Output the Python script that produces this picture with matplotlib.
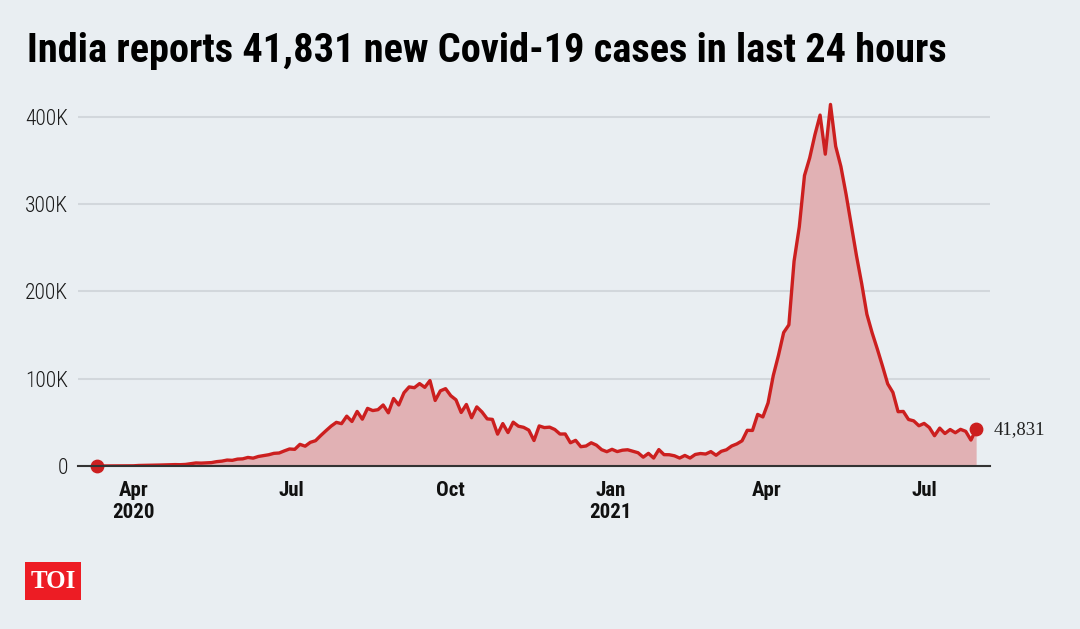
import pandas as pd
import matplotlib
matplotlib.use("Agg")
import matplotlib.pyplot as plt
from matplotlib.patches import Rectangle

# daily new cases, one reading every 3 days from 11 Mar 2020 to 31 Jul 2021
start_date = "2020-03-11"
step_days = 3
cases = [
    5, 15, 20, 50, 80, 90, 190, 230,                                             # Mar 2020
    600, 700, 800, 900, 1100, 1300, 1500, 1600, 1500, 1800,                        # Apr
    2600, 3500, 3300, 3600, 3900, 5000, 5600, 6800, 6500, 7900,                    # May
    8200, 9800, 9000, 10900, 11900, 12900, 14500, 14900, 17300, 19500,             # Jun
    19100, 24800, 22700, 27100, 29000, 34900, 40400, 45700, 50000, 48500,          # Jul
    57100, 51000, 62500, 53600, 66000, 63500, 64500, 69900, 60900, 77300, 69900,   # Aug
    83900, 90600, 89700, 94400, 90100, 97900, 75100, 86100, 88600, 80500,          # Sep
    75800, 61300, 70500, 55300, 67700, 61900, 54000, 53400, 36500, 48600,          # Oct
    38300, 50200, 45600, 44300, 41100, 29200, 45900, 44000, 44500, 41800,          # Nov
    36600, 36700, 26600, 29400, 22100, 22900, 26600, 23900, 18700, 16400,          # Dec
    19100, 16500, 18100, 18600, 16900, 15200, 10100, 14500, 9100, 18800, 13000,    # Jan 2021
    12900, 11700, 9100, 12100, 9100, 13200, 14300, 13700, 16500,                   # Feb
    12300, 16800, 18600, 22900, 25300, 28900, 40900, 40700, 59100, 56200,          # Mar
    72300, 103600, 126800, 152900, 161700, 234700, 273800, 332700, 352900, 379300, # Apr
    402000, 357200, 414200, 366200, 343100, 311200, 276100, 240800, 208900, 173800, 152700,  # May
    134100, 114500, 94100, 84300, 62200, 62500, 53300, 51700, 46100, 48800,        # Jun
    44100, 34700, 43400, 37200, 41800, 38100, 42000, 39700, 29700, 41831,          # Jul
]
dates = pd.date_range(start_date, periods=len(cases), freq=f"{step_days}D")

tick_dates = ["2020-04-01", "2020-07-01", "2020-10-01", "2021-01-01", "2021-04-01", "2021-07-01"]
tick_labels = ["Apr\n2020", "Jul", "Oct", "Jan\n2021", "Apr", "Jul"]
y_ticks = [0, 100000, 200000, 300000, 400000]
y_labels = ["0", "100K", "200K", "300K", "400K"]
title = "India reports 41,831 new Covid-19 cases in last 24 hours"

bg = "#e9eef2"
red = "#cc1f1f"
fill = "#e1b1b4"
cond = ["Roboto Condensed", "Archivo Narrow", "DejaVu Sans"]
serif = ["Liberation Serif", "DejaVu Serif"]

W, H = 1080, 629
fig = plt.figure(figsize=(W / 100, H / 100), dpi=100, facecolor=bg)
ax = fig.add_axes([78 / W, (H - 466) / H, (990 - 78) / W, (466 - 95) / H])
ax.set_facecolor(bg)

ax.fill_between(dates, cases, 0, color=fill, lw=0, zorder=2)
ax.plot(dates, cases, color=red, lw=2.4, solid_joinstyle="round", zorder=3)
ax.scatter([dates[0], dates[-1]], [cases[0], cases[-1]], s=80, color=red, zorder=4, clip_on=False)
ax.text(dates[-1] + pd.Timedelta(days=10), cases[-1], f"{cases[-1]:,}", fontsize=13.5,
        family=serif, color="#222222", va="center", ha="left")

ax.set_xlim(pd.Timestamp("2020-02-29"), pd.Timestamp("2021-08-08"))
ax.set_ylim(0, 425000)

ax.set_yticks(y_ticks)
ax.set_yticklabels(y_labels, fontsize=15.5, family=cond, fontweight=300, color="#1a1a1a")
ax.set_xticks(pd.to_datetime(tick_dates))
ax.set_xticklabels(tick_labels, fontsize=15, family=cond, fontweight="bold",
                   color="#111111", linespacing=1.2, va="top")
ax.tick_params(axis="both", length=0)
ax.tick_params(axis="y", pad=7)
ax.tick_params(axis="x", pad=11)

ax.grid(axis="y", color="#d2d7dc", lw=1.5, zorder=1)
ax.grid(axis="x", visible=False)
for s in ["top", "right", "left"]:
    ax.spines[s].set_visible(False)
ax.spines["bottom"].set_color("#333333")
ax.spines["bottom"].set_linewidth(1.5)
ax.spines["bottom"].set_zorder(5)

t = fig.text(27 / W, 1 - 62 / H, title, fontsize=29, fontweight="bold", family=cond,
             color="#000000", va="baseline", ha="left")
# fit the headline to the width it takes in the original
fig.canvas.draw()
w = t.get_window_extent().width
t.set_fontsize(29 * 920 / w)

# TOI badge
fig.patches.append(Rectangle((25 / W, 1 - 600 / H), 56 / W, 38 / H, transform=fig.transFigure,
                             facecolor="#ed1c24", edgecolor="none"))
fig.text(53 / W, 1 - 582 / H, "TOI", fontsize=18, fontweight="bold", family=serif,
         color="white", ha="center", va="center")

fig.savefig("out.png", dpi=100, facecolor=bg)
